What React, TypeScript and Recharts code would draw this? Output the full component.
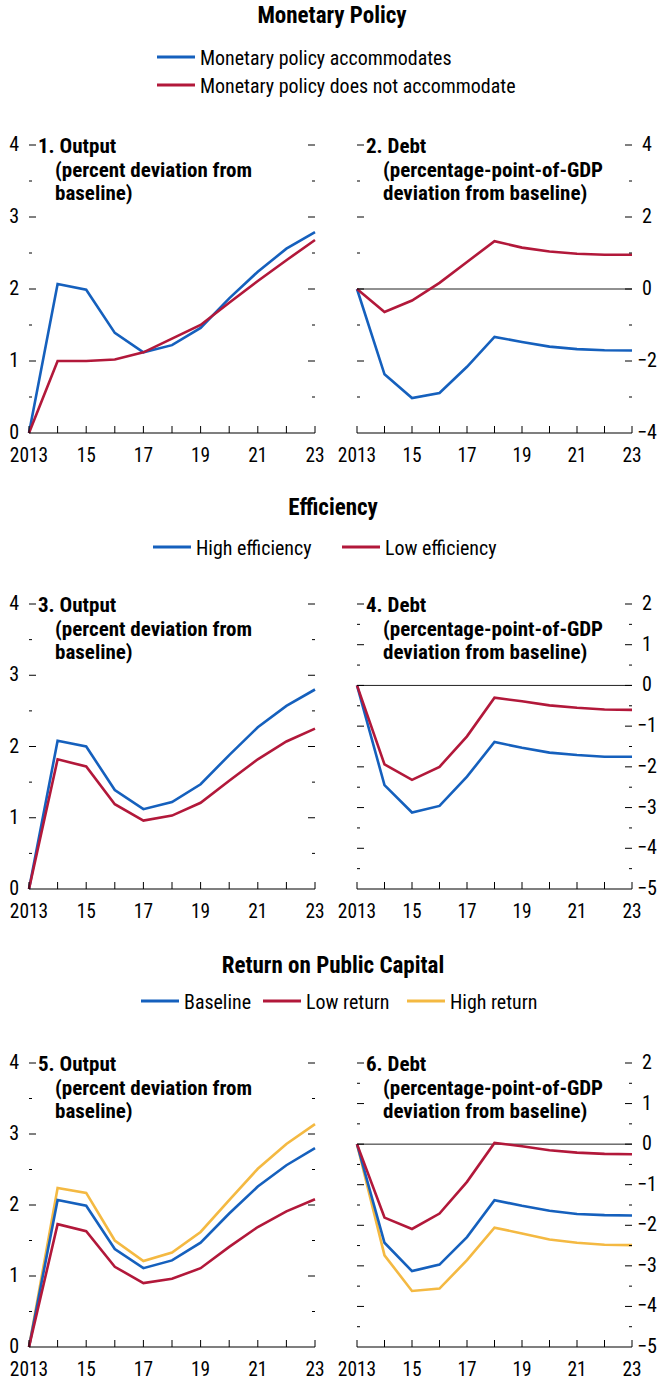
import React from "react";
import { LineChart, Line, XAxis, YAxis, ReferenceLine } from "recharts";

const FONT = '"Liberation Sans Narrow", "Arial Narrow", "Roboto Condensed", "Liberation Sans", sans-serif';
const BLUE = "#1560bd";
const RED = "#b2183a";
const GOLD = "#f4b942";

const years = [2013, 2014, 2015, 2016, 2017, 2018, 2019, 2020, 2021, 2022, 2023];

// 1. Output, monetary policy
const p1Accommodates = [0, 2.07, 1.99, 1.39, 1.12, 1.22, 1.46, 1.87, 2.24, 2.56, 2.79];
const p1NotAccommodate = [0, 1.0, 1.0, 1.02, 1.12, 1.31, 1.5, 1.81, 2.11, 2.4, 2.68];
// 2. Debt, monetary policy
const p2Accommodates = [0, -2.37, -3.03, -2.89, -2.16, -1.33, -1.47, -1.6, -1.67, -1.7, -1.71];
const p2NotAccommodate = [0, -0.64, -0.32, 0.17, 0.75, 1.33, 1.15, 1.04, 0.98, 0.95, 0.95];
// 3. Output, efficiency
const p3High = [0, 2.08, 2.0, 1.39, 1.12, 1.22, 1.47, 1.88, 2.27, 2.57, 2.8];
const p3Low = [0, 1.82, 1.72, 1.19, 0.96, 1.03, 1.21, 1.52, 1.82, 2.07, 2.25];
// 4. Debt, efficiency
const p4High = [0, -2.45, -3.12, -2.96, -2.24, -1.39, -1.53, -1.65, -1.71, -1.75, -1.75];
const p4Low = [0, -1.94, -2.32, -2.0, -1.25, -0.3, -0.39, -0.49, -0.55, -0.59, -0.6];
// 5. Output, return on public capital
const p5Baseline = [0, 2.07, 1.99, 1.38, 1.11, 1.22, 1.47, 1.88, 2.26, 2.56, 2.8];
const p5Low = [0, 1.73, 1.63, 1.13, 0.9, 0.96, 1.11, 1.41, 1.69, 1.91, 2.08];
const p5High = [0, 2.24, 2.17, 1.5, 1.21, 1.33, 1.62, 2.07, 2.51, 2.86, 3.14];
// 6. Debt, return on public capital
const p6Baseline = [0, -2.43, -3.13, -2.97, -2.29, -1.38, -1.52, -1.64, -1.72, -1.75, -1.76];
const p6Low = [0, -1.81, -2.09, -1.71, -0.93, 0.03, -0.05, -0.15, -0.21, -0.24, -0.25];
const p6High = [0, -2.74, -3.62, -3.56, -2.86, -2.06, -2.2, -2.35, -2.43, -2.48, -2.49];

const outputTicks = [0, 0.5, 1, 1.5, 2, 2.5, 3, 3.5, 4];
const outputLabels = [0, 1, 2, 3, 4];
const debtTicksWide = [-4, -3, -2, -1, 0, 1, 2, 3, 4];
const debtLabelsWide = [-4, -2, 0, 2, 4];
const debtTicks = [-5, -4.5, -4, -3.5, -3, -2.5, -2, -1.5, -1, -0.5, 0, 0.5, 1, 1.5, 2];
const debtLabels = [-5, -4, -3, -2, -1, 0, 1, 2];

type Series = { name: string; values: number[]; color: string };

interface PanelProps {
  left: number;
  top: number;
  plotHeight: number;
  side: "left" | "right";
  domain: [number, number];
  ticks: number[];
  labels: number[];
  series: Series[];
  zero?: boolean;
  title: string[];
}

const W = 331;

function fmt(v: number) {
  return v < 0 ? `\u2212${Math.abs(v)}` : String(v);
}

// text squeezed a little to get the condensed look of the original
function SText(props: {
  x: number;
  y: number;
  size: number;
  sx?: number;
  anchor?: "start" | "middle" | "end";
  bold?: boolean;
  children: React.ReactNode;
}) {
  const { x, y, size, sx = 1, anchor = "start", bold, children } = props;
  return (
    <text
      transform={`translate(${x},${y}) scale(${sx},1)`}
      textAnchor={anchor}
      fontSize={size}
      fontWeight={bold ? "bold" : "normal"}
      fontFamily={FONT}
      fill="#000"
    >
      {children}
    </text>
  );
}

function Panel({ left, top, plotHeight, side, domain, ticks, labels, series, zero, title }: PanelProps) {
  const mt = 14;
  const xh = 34;
  const plotLeft = side === "left" ? 29 : 26;
  const plotRight = side === "left" ? 315 : 301;
  const rows = years.map((yr, i) => {
    const row: Record<string, number> = { year: yr };
    series.forEach((s) => (row[s.name] = s.values[i]));
    return row;
  });

  const YTick = (props: any) => {
    const { y, payload } = props;
    const v = payload.value as number;
    const major = labels.includes(v);
    const len = major ? 7 : 3;
    return (
      <g>
        {v !== domain[0] && (
          <>
            <line x1={plotLeft} x2={plotLeft + len} y1={y} y2={y} stroke="#000" strokeWidth={1} />
            <line x1={plotRight - len} x2={plotRight} y1={y} y2={y} stroke="#000" strokeWidth={1} />
          </>
        )}
        {major && (
          <SText
            x={side === "left" ? 19 : plotRight + (v < 0 ? 5 : 10)}
            y={y + 6}
            size={20}
            anchor={side === "left" ? "end" : "start"}
          >
            {fmt(v)}
          </SText>
        )}
      </g>
    );
  };

  const XTick = (props: any) => {
    const { x, y, payload } = props;
    const v = payload.value as number;
    return (
      <g>
        <line x1={x} x2={x} y1={y} y2={y - 7} stroke="#000" strokeWidth={1} />
        {v % 2 === 1 && (
          <SText x={x} y={y + 29} size={20} sx={0.97} anchor="middle">
            {v === 2013 ? "2013" : String(v).slice(2)}
          </SText>
        )}
      </g>
    );
  };

  return (
    <div style={{ position: "absolute", left, top, width: W, height: mt + plotHeight + xh }}>
      <LineChart
        width={W}
        height={mt + plotHeight + xh}
        data={rows}
        margin={{ top: mt, right: side === "left" ? W - plotRight : 0, bottom: 0, left: side === "left" ? 0 : plotLeft }}
      >
        <XAxis
          dataKey="year"
          type="number"
          domain={[2013, 2023]}
          ticks={years}
          height={xh}
          tickSize={0}
          tickMargin={0}
          tickLine={false}
          axisLine={{ stroke: "#000", strokeWidth: 1.2 }}
          tick={<XTick />}
          interval={0}
        />
        <YAxis
          orientation={side}
          type="number"
          domain={domain}
          ticks={ticks}
          width={side === "left" ? plotLeft : W - plotRight}
          tickSize={0}
          tickMargin={0}
          tickLine={false}
          axisLine={false}
          tick={<YTick />}
          interval={0}
        />
        {zero && <ReferenceLine y={0} stroke="#222" strokeWidth={1} />}
        {series.map((s) => (
          <Line
            key={s.name}
            dataKey={s.name}
            type="linear"
            stroke={s.color}
            strokeWidth={2.6}
            dot={false}
            isAnimationActive={false}
          />
        ))}
      </LineChart>
      <svg width={W} height={120} style={{ position: "absolute", left: 0, top: 0, pointerEvents: "none" }}>
        {title.map((t, i) => (
          <SText key={i} x={i === 0 ? plotLeft + 9 : plotLeft + 26} y={mt + 8 + i * 23.5} size={21} bold>
            {t}
          </SText>
        ))}
      </svg>
    </div>
  );
}

function LegendItem({ x, y, color, label }: { x: number; y: number; color: string; label: string }) {
  return (
    <g>
      <line x1={x} x2={x + 38} y1={y} y2={y} stroke={color} strokeWidth={3} />
      <SText x={x + 43} y={y + 8} size={21} sx={0.95}>
        {label}
      </SText>
    </g>
  );
}

export default function App() {
  return (
    <div style={{ position: "absolute", left: 0, top: 0, width: 662, height: 1382, background: "#fff", fontFamily: FONT }}>
      <svg width={662} height={1382} style={{ position: "absolute", left: 0, top: 0 }}>
        <SText x={332} y={23} size={23} anchor="middle" bold>
          Monetary Policy
        </SText>
        <LegendItem x={157} y={57} color={BLUE} label="Monetary policy accommodates" />
        <LegendItem x={157} y={85} color={RED} label="Monetary policy does not accommodate" />
        <SText x={333} y={515} size={23} anchor="middle" bold>
          Efficiency
        </SText>
        <LegendItem x={153} y={547} color={BLUE} label="High efficiency" />
        <LegendItem x={342} y={547} color={RED} label="Low efficiency" />
        <SText x={333} y={973} size={23} anchor="middle" bold>
          Return on Public Capital
        </SText>
        <LegendItem x={141} y={1001} color={BLUE} label="Baseline" />
        <LegendItem x={263} y={1001} color={RED} label="Low return" />
        <LegendItem x={407} y={1001} color={GOLD} label="High return" />
      </svg>

      <Panel
        left={0}
        top={131}
        plotHeight={288}
        side="left"
        domain={[0, 4]}
        ticks={outputTicks}
        labels={outputLabels}
        title={["1. Output", "(percent deviation from", "baseline)"]}
        series={[
          { name: "accommodates", values: p1Accommodates, color: BLUE },
          { name: "notAccommodate", values: p1NotAccommodate, color: RED },
        ]}
      />
      <Panel
        left={331}
        top={131}
        plotHeight={288}
        side="right"
        domain={[-4, 4]}
        ticks={debtTicksWide}
        labels={debtLabelsWide}
        zero
        title={["2. Debt", "(percentage-point-of-GDP", "deviation from baseline)"]}
        series={[
          { name: "accommodates", values: p2Accommodates, color: BLUE },
          { name: "notAccommodate", values: p2NotAccommodate, color: RED },
        ]}
      />
      <Panel
        left={0}
        top={590}
        plotHeight={285}
        side="left"
        domain={[0, 4]}
        ticks={outputTicks}
        labels={outputLabels}
        title={["3. Output", "(percent deviation from", "baseline)"]}
        series={[
          { name: "high", values: p3High, color: BLUE },
          { name: "low", values: p3Low, color: RED },
        ]}
      />
      <Panel
        left={331}
        top={590}
        plotHeight={285}
        side="right"
        domain={[-5, 2]}
        ticks={debtTicks}
        labels={debtLabels}
        zero
        title={["4. Debt", "(percentage-point-of-GDP", "deviation from baseline)"]}
        series={[
          { name: "high", values: p4High, color: BLUE },
          { name: "low", values: p4Low, color: RED },
        ]}
      />
      <Panel
        left={0}
        top={1049}
        plotHeight={284}
        side="left"
        domain={[0, 4]}
        ticks={outputTicks}
        labels={outputLabels}
        title={["5. Output", "(percent deviation from", "baseline)"]}
        series={[
          { name: "high", values: p5High, color: GOLD },
          { name: "baseline", values: p5Baseline, color: BLUE },
          { name: "low", values: p5Low, color: RED },
        ]}
      />
      <Panel
        left={331}
        top={1049}
        plotHeight={284}
        side="right"
        domain={[-5, 2]}
        ticks={debtTicks}
        labels={debtLabels}
        zero
        title={["6. Debt", "(percentage-point-of-GDP", "deviation from baseline)"]}
        series={[
          { name: "high", values: p6High, color: GOLD },
          { name: "baseline", values: p6Baseline, color: BLUE },
          { name: "low", values: p6Low, color: RED },
        ]}
      />
    </div>
  );
}
